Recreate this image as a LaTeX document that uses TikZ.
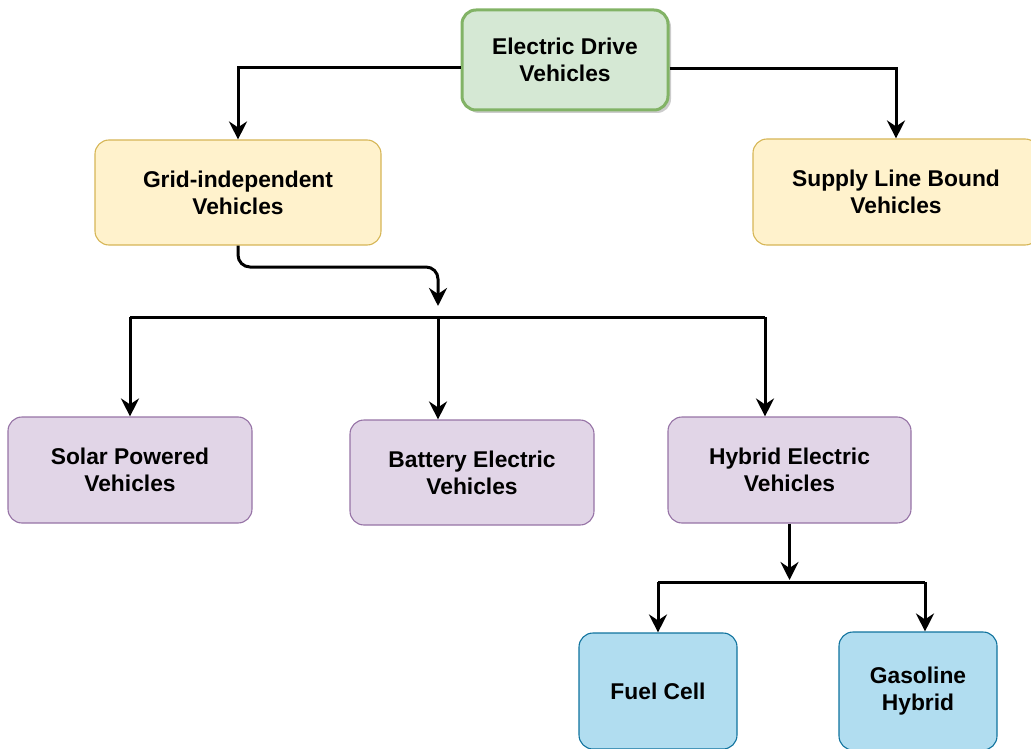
\documentclass[tikz,border=0pt]{standalone}
\usepackage{fontspec}
\setmainfont{Liberation Sans}
\usetikzlibrary{arrows.meta,shadows}
\definecolor{gfill}{HTML}{D5E8D4}\definecolor{gline}{HTML}{82B366}
\definecolor{yfill}{HTML}{FFF2CC}\definecolor{yline}{HTML}{D6B656}
\definecolor{pfill}{HTML}{E1D5E7}\definecolor{pline}{HTML}{9673A6}
\definecolor{bfill}{HTML}{B1DDF0}\definecolor{bline}{HTML}{10739E}
\tikzset{
  box/.style={draw, rounded corners=14pt, align=center, inner sep=0pt, line width=1.1pt,
    font=\bfseries\fontsize{22.8}{27}\selectfont},
  greenbox/.style={box, fill=gfill, draw=gline, line width=3pt,
    drop shadow={shadow xshift=3pt, shadow yshift=-3pt, opacity=0.2, fill=black}},
  yellowbox/.style={box, fill=yfill, draw=yline},
  purplebox/.style={box, fill=pfill, draw=pline},
  bluebox/.style={box, fill=bfill, draw=bline},
  arr/.style={line width=3pt, -{Stealth[length=18pt, width=18pt, inset=6pt]}},
  plain/.style={line width=3pt}
}
\begin{document}
\begin{tikzpicture}[x=1pt, y=-1pt]
\useasboundingbox (0,0) rectangle (1031,749);
\clip (0,0) rectangle (1031,749);
% nodes
\node[greenbox, minimum width=206pt, minimum height=100pt] (top) at (565,60) {Electric Drive\\Vehicles};
\node[yellowbox, minimum width=286pt, minimum height=105pt] (grid) at (238,192.5) {Grid-independent\\Vehicles};
\node[yellowbox, minimum width=286pt, minimum height=106pt] (supply) at (896,192) {Supply Line Bound\\Vehicles};
\node[purplebox, minimum width=244pt, minimum height=106pt] (solar) at (130,470) {Solar Powered\\Vehicles};
\node[purplebox, minimum width=244pt, minimum height=105pt] (battery) at (472,472.5) {Battery Electric\\Vehicles};
\node[purplebox, minimum width=243pt, minimum height=106pt] (hybrid) at (789.5,470) {Hybrid Electric\\Vehicles};
\node[bluebox, minimum width=158pt, minimum height=116pt] (fuel) at (658,691) {Fuel Cell};
\node[bluebox, minimum width=158pt, minimum height=118pt] (gas) at (918,691) {Gasoline\\Hybrid};
% junction coordinates
\coordinate (g1) at (438,267);
\coordinate (j1) at (438,306);
\coordinate (bus) at (438,317);
\coordinate (busL) at (130,317);
\coordinate (busR) at (765,317);
\coordinate (j2) at (789.5,580);
\coordinate (bus2L) at (658,582);
\coordinate (bus2R) at (925,582);
% connectors
\draw[arr] ([yshift=-8pt]top.west) -| (grid.north);
\draw[arr] ([yshift=-9pt]top.east) -| (supply.north);
\draw[arr, rounded corners=12pt] (grid.south) |- (g1) -- (j1);
\draw[plain] (busL) -- (busR);
\draw[arr] (busL) -- (solar.north);
\draw[arr] (bus) -- (bus |- battery.north);
\draw[arr] (busR) -- (busR |- hybrid.north);
\draw[arr] (hybrid.south) -- (j2);
\draw[plain] (bus2L) -- (bus2R);
\draw[arr] (bus2L) -- (fuel.north);
\draw[arr] (bus2R) -- (bus2R |- gas.north);
\end{tikzpicture}
\end{document}
